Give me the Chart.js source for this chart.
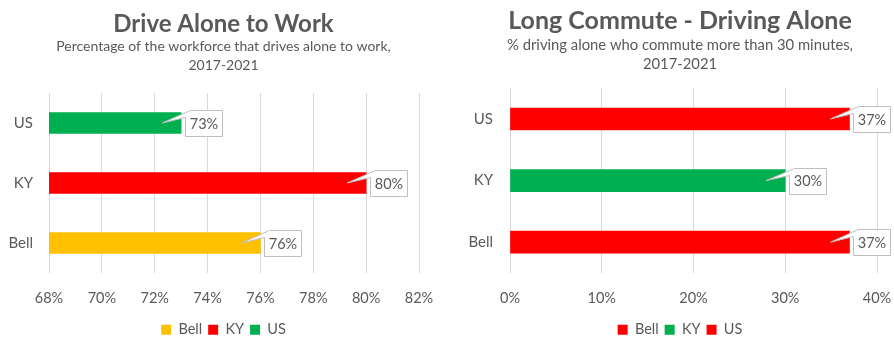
<!DOCTYPE html>
<html>
<head>
<meta charset="utf-8">
<script src="https://cdn.jsdelivr.net/npm/chart.js@4.4.1/dist/chart.umd.min.js"></script>
<style>
  html, body { margin: 0; padding: 0; background: #fff; }
  body { width: 894px; height: 337px; position: relative; overflow: hidden; }
  .wrap { position: absolute; top: 0; height: 337px; }
  #w1 { left: 0; width: 447px; }
  #w2 { left: 466px; width: 428px; }
</style>
</head>
<body>
<div class="wrap" id="w1"><canvas id="c1"></canvas></div>
<div class="wrap" id="w2"><canvas id="c2"></canvas></div>
<script>
// ---- data ----
const categories = ['Bell', 'KY', 'US'];
const driveAlonePct = [76, 80, 73];
const longCommutePct = [37, 30, 37];
const driveAloneColors = ['#FFC000', '#FF0000', '#00B050'];
const longCommuteColors = ['#FF0000', '#00B050', '#FF0000'];
const driveAloneTitle = 'Drive Alone to Work';
const driveAloneSubtitle = ['Percentage of the workforce that drives alone to work,', '2017-2021'];
const longCommuteTitle = 'Long Commute - Driving Alone';
const longCommuteSubtitle = ['% driving alone who commute more than 30 minutes,', '2017-2021'];

const FONT = 'Lato, "Open Sans", sans-serif';
const TXT = '#595959';
const GRID = '#D9D9D9';

const calloutPlugin = {
  id: 'callout',
  afterDatasetsDraw(chart) {
    const ctx = chart.ctx;
    const meta = chart.getDatasetMeta(0);
    const ds = chart.data.datasets[0];
    ctx.save();
    ctx.font = '14.5px ' + FONT;
    meta.data.forEach((bar, i) => {
      const label = ds.data[i] + '%';
      const tw = ctx.measureText(label).width;
      const x0 = Math.round(bar.x + 4) + 0.5, w = Math.round(tw + 9), h = 26;
      const y0 = Math.round(bar.y - h / 2) + 0.5, x1 = x0 + w, y1 = y0 + h;
      const tipX = bar.x - 19, tipY = bar.y;
      ctx.beginPath();
      ctx.moveTo(x0 + 5, y0);
      ctx.lineTo(x1, y0);
      ctx.lineTo(x1, y1);
      ctx.lineTo(x0, y1);
      ctx.lineTo(x0, y0 + 7);
      ctx.lineTo(tipX, tipY);
      ctx.closePath();
      ctx.fillStyle = '#FFFFFF';
      ctx.fill();
      ctx.lineWidth = 1;
      ctx.strokeStyle = '#BFBFBF';
      ctx.stroke();
      ctx.fillStyle = TXT;
      ctx.textAlign = 'center';
      ctx.textBaseline = 'middle';
      ctx.fillText(label, x0 + w / 2, bar.y + 1);
    });
    ctx.restore();
  }
};

function makeChart(id, values, colors, title, subtitle, opt) {
  return new Chart(document.getElementById(id), {
    type: 'bar',
    data: {
      labels: categories,
      datasets: [{
        data: values,
        backgroundColor: colors,
        barThickness: opt.barThick,
        borderWidth: 0
      }]
    },
    options: {
      indexAxis: 'y',
      responsive: true,
      maintainAspectRatio: false,
      animation: false,
      layout: { padding: { left: 0, right: 0, top: 0, bottom: -10 } },
      scales: {
        x: {
          min: opt.xmin, max: opt.xmax,
          ticks: {
            stepSize: opt.step,
            color: TXT,
            font: { family: FONT, size: 14.5 },
            padding: 17,
            callback: v => v + '%'
          },
          grid: { color: GRID, lineWidth: 1, drawTicks: false },
          border: { display: false },
          afterFit(scale) {
            scale.height = 43.5;
            scale.paddingLeft = 0;
            scale.paddingRight = opt.plotRightGap;
          }
        },
        y: {
          reverse: true,
          ticks: { color: TXT, font: { family: FONT, size: 15 }, padding: opt.yPad },
          grid: { display: false, drawTicks: false },
          border: { display: false },
          afterFit(scale) { scale.width = opt.yWidth; }
        }
      },
      plugins: {
        title: {
          display: true,
          text: title,
          color: TXT,
          font: { family: FONT, size: opt.titleSize, weight: 'bold', lineHeight: opt.titleLH },
          padding: { top: opt.titleTop, bottom: 0 }
        },
        subtitle: {
          display: true,
          text: subtitle,
          color: TXT,
          font: { family: FONT, size: opt.subSize, lineHeight: 18.9 / opt.subSize },
          padding: { top: 0, bottom: opt.subBottom }
        },
        legend: {
          position: 'bottom',
          labels: {
            color: TXT,
            font: { family: FONT, size: 14.5 },
            boxWidth: 10,
            boxHeight: 10,
            padding: 6,
            generateLabels(chart) {
              const ds = chart.data.datasets[0];
              return chart.data.labels.map((l, i) => ({
                text: l,
                fillStyle: ds.backgroundColor[i],
                strokeStyle: ds.backgroundColor[i],
                lineWidth: 0,
                fontColor: TXT,
                hidden: false,
                index: i
              }));
            }
          },
          onClick() {}
        },
        tooltip: { enabled: false }
      }
    },
    plugins: [calloutPlugin]
  });
}

makeChart('c1', driveAlonePct, driveAloneColors, driveAloneTitle, driveAloneSubtitle,
  { xmin: 68, xmax: 82, step: 2, yWidth: 49, yPad: 16, plotRightGap: 28,
    titleTop: 11.2, titleSize: 24, titleLH: 25.6 / 24, subSize: 14, subBottom: 18.4, barThick: 21 });
makeChart('c2', longCommutePct, longCommuteColors, longCommuteTitle, longCommuteSubtitle,
  { xmin: 0, xmax: 40, step: 10, yWidth: 44, yPad: 17, plotRightGap: 17,
    titleTop: 6, titleSize: 25, titleLH: 1.2, subSize: 14.8, subBottom: 14.4, barThick: 22 });
</script>
</body>
</html>
